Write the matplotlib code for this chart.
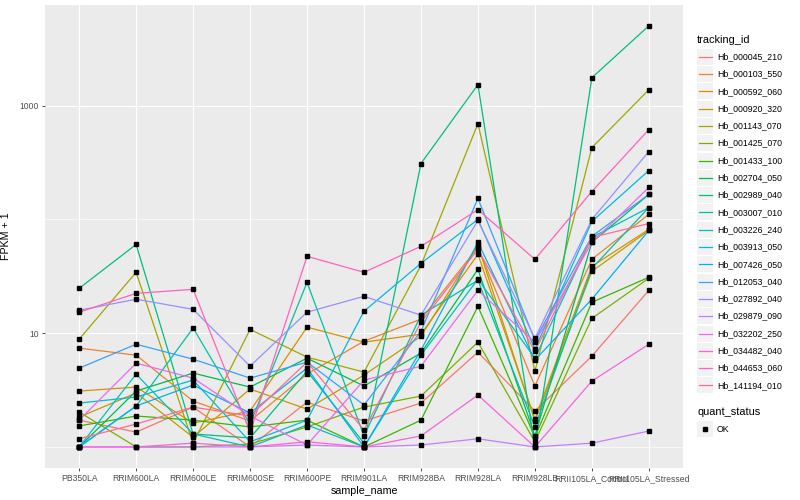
import matplotlib
matplotlib.use("Agg")
import matplotlib.pyplot as plt
from matplotlib.ticker import FixedLocator, NullFormatter
from matplotlib.patches import Rectangle
from matplotlib.lines import Line2D

plt.rcParams['font.family'] = ['Liberation Sans', 'DejaVu Sans']

samples = ["PB350LA", "RRIM600LA", "RRIM600LE", "RRIM600SE", "RRIM600PE", "RRIM901LA",
           "RRIM928BA", "RRIM928LA", "RRIM928LB", "RRII105LA_Control", "RRII105LA_Stressed"]

tracking_ids = ["Hb_000045_210", "Hb_000103_550", "Hb_000592_060", "Hb_000920_320",
                "Hb_001143_070", "Hb_001425_070", "Hb_001433_100", "Hb_002704_050",
                "Hb_002989_040", "Hb_003007_010", "Hb_003226_240", "Hb_003913_050",
                "Hb_007426_050", "Hb_012053_040", "Hb_027892_040", "Hb_029879_090",
                "Hb_032202_250", "Hb_034482_040", "Hb_044653_060", "Hb_141194_010"]

# FPKM + 1 values per sample
hb_000045_210 = [1.72, 1.35, 2.24, 1.0, 2.48, 1.69, 2.43, 6.81, 2.07, 6.28, 23.8]
hb_000103_550 = [7.39, 6.41, 2.53, 1.69, 4.37, 8.5, 13.3, 56.8, 3.43, 44.6, 111]
hb_000592_060 = [3.1, 3.36, 1.62, 2.07, 11.3, 8.34, 9.8, 49.3, 1.76, 38.7, 81.7]
hb_000920_320 = [1.83, 2.98, 1.22, 3.23, 2.15, 4.28, 9.4, 59.1, 1.69, 35, 80]
hb_001143_070 = [8.86, 34.3, 1.08, 10.8, 6.16, 4.55, 39.5, 695, 4.64, 428, 1380]
hb_001425_070 = [2.03, 1.0, 1.0, 1.06, 1.5, 2.24, 2.8, 8.34, 1.11, 13.5, 30.4]
hb_001433_100 = [1.53, 1.87, 1.72, 1.5, 1.72, 1.0, 1.72, 17.2, 1.22, 18.7, 31]
hb_002704_050 = [1.0, 3.1, 4.46, 3.36, 6.03, 3.43, 6.68, 36.4, 1.25, 62.8, 166]
hb_002989_040 = [24.8, 60.3, 1.3, 1.2, 4.64, 1.08, 310, 1530, 1.0, 1760, 5030]
hb_003007_010 = [1.0, 2.29, 11.1, 1.59, 28, 1.25, 14.4, 29.2, 1.5, 37.2, 127]
hb_003226_240 = [1.0, 4.37, 1.3, 1.0, 1.56, 1.0, 6.41, 29.8, 6.03, 69.5, 127]
hb_003913_050 = [2.43, 2.75, 3.87, 1.11, 1.72, 15.6, 41.1, 100, 7.24, 96, 269]
hb_007426_050 = [1.0, 2.29, 3.5, 1.99, 4.93, 1.0, 7.09, 62.8, 5.8, 19.9, 80]
hb_012053_040 = [4.93, 8.0, 5.91, 4.03, 5.57, 2.34, 10.4, 153, 8.68, 71, 166]
hb_027892_040 = [15.9, 19.9, 16.2, 5.13, 15.3, 21.1, 14.4, 98, 9.0, 100, 395]
hb_029879_090 = [1.0, 1.0, 1.0, 1.0, 1.04, 1.0, 1.04, 1.18, 1.0, 1.08, 1.38]
hb_032202_250 = [1.72, 5.45, 4.03, 1.87, 1.04, 3.87, 5.13, 23.8, 8.34, 62.8, 191]
hb_034482_040 = [1.0, 1.0, 1.08, 1.0, 1.11, 1.0, 1.25, 2.86, 1.0, 3.79, 8.0]
hb_044653_060 = [15.3, 22.4, 24.3, 1.35, 47.4, 34.3, 58, 122, 44.6, 176, 616]
hb_141194_010 = [1.18, 1.59, 2.24, 1.87, 5.57, 1.41, 12.5, 54.6, 6.95, 69.5, 92]

series = [hb_000045_210, hb_000103_550, hb_000592_060, hb_000920_320, hb_001143_070,
          hb_001425_070, hb_001433_100, hb_002704_050, hb_002989_040, hb_003007_010,
          hb_003226_240, hb_003913_050, hb_007426_050, hb_012053_040, hb_027892_040,
          hb_029879_090, hb_032202_250, hb_034482_040, hb_044653_060, hb_141194_010]

colors = ["#F8766D", "#EA8331", "#D89000", "#C09B00", "#A3A500", "#7CAE00", "#39B600",
          "#00BB4E", "#00BF7D", "#00C1A3", "#00BFC4", "#00BAE0", "#00B0F6", "#35A2FF",
          "#9590FF", "#C77CFF", "#E76BF3", "#FA62DB", "#FF62BC", "#FF6C91"]

W, H = 800, 500
fig = plt.figure(figsize=(8, 5), dpi=100)
L, R, T, B = 45, 683, 5, 468
ax = fig.add_axes([L / W, 1 - B / H, (R - L) / W, (B - T) / H])
ax.set_facecolor("#EBEBEB")

x = list(range(len(samples)))
for vals, c in zip(series, colors):
    ax.plot(x, vals, color=c, lw=0.9, zorder=3, solid_capstyle='butt')
for vals in series:
    ax.plot(x, vals, ls='none', marker='s', ms=2.2, color='black', zorder=4)

ax.set_yscale('log')
ax.set_ylim(10 ** -0.185, 10 ** 3.885)
ax.set_xlim(-0.6, len(samples) - 0.4)
ax.yaxis.set_major_locator(FixedLocator([10, 1000]))
ax.yaxis.set_minor_locator(FixedLocator([1, 100]))
ax.yaxis.set_minor_formatter(NullFormatter())
ax.set_yticklabels(["10", "1000"])
ax.set_xticks(x)
ax.set_xticklabels(samples)

ax.grid(which='major', color='white', lw=0.85, zorder=1)
ax.grid(which='minor', axis='y', color='white', lw=0.45, zorder=1)
ax.set_axisbelow(True)
for s in ax.spines.values():
    s.set_visible(False)
ax.tick_params(which='major', length=2.5, width=0.6, color='#333333',
               labelsize=6.2, labelcolor='#4D4D4D', pad=2)
ax.tick_params(which='minor', length=0)

ax.set_xlabel("sample_name", fontsize=7.7, color='black', labelpad=2)
ax.set_ylabel("FPKM + 1", fontsize=7.7, color='black', labelpad=6)

def fx(px):
    return px / W

def fy(py):
    return 1 - py / H

fig.text(fx(697), fy(40), "tracking_id", fontsize=7.9, va='center', ha='left')
step = 17.3
for i, (name, c) in enumerate(zip(tracking_ids, colors)):
    yc = 56.7 + step * i
    fig.add_artist(Rectangle((fx(697), fy(yc + 8)), 16 / W, 16 / H,
                             transform=fig.transFigure, facecolor='#F2F2F2',
                             edgecolor='none'))
    fig.add_artist(Line2D([fx(698.5), fx(711.5)], [fy(yc), fy(yc)],
                          transform=fig.transFigure, color=c, lw=0.9))
    fig.text(fx(717), fy(yc), name, fontsize=6.3, va='center', ha='left')

fig.text(fx(697), fy(412), "quant_status", fontsize=7.9, va='center', ha='left')
fig.add_artist(Rectangle((fx(697), fy(437)), 16 / W, 16 / H,
                         transform=fig.transFigure, facecolor='#F2F2F2', edgecolor='none'))
fig.add_artist(Line2D([fx(705)], [fy(429)], transform=fig.transFigure, ls='none',
                      marker='s', ms=2.2, color='black'))
fig.text(fx(717), fy(429), "OK", fontsize=6.3, va='center', ha='left')

fig.savefig("out.png", dpi=100, facecolor='white')
